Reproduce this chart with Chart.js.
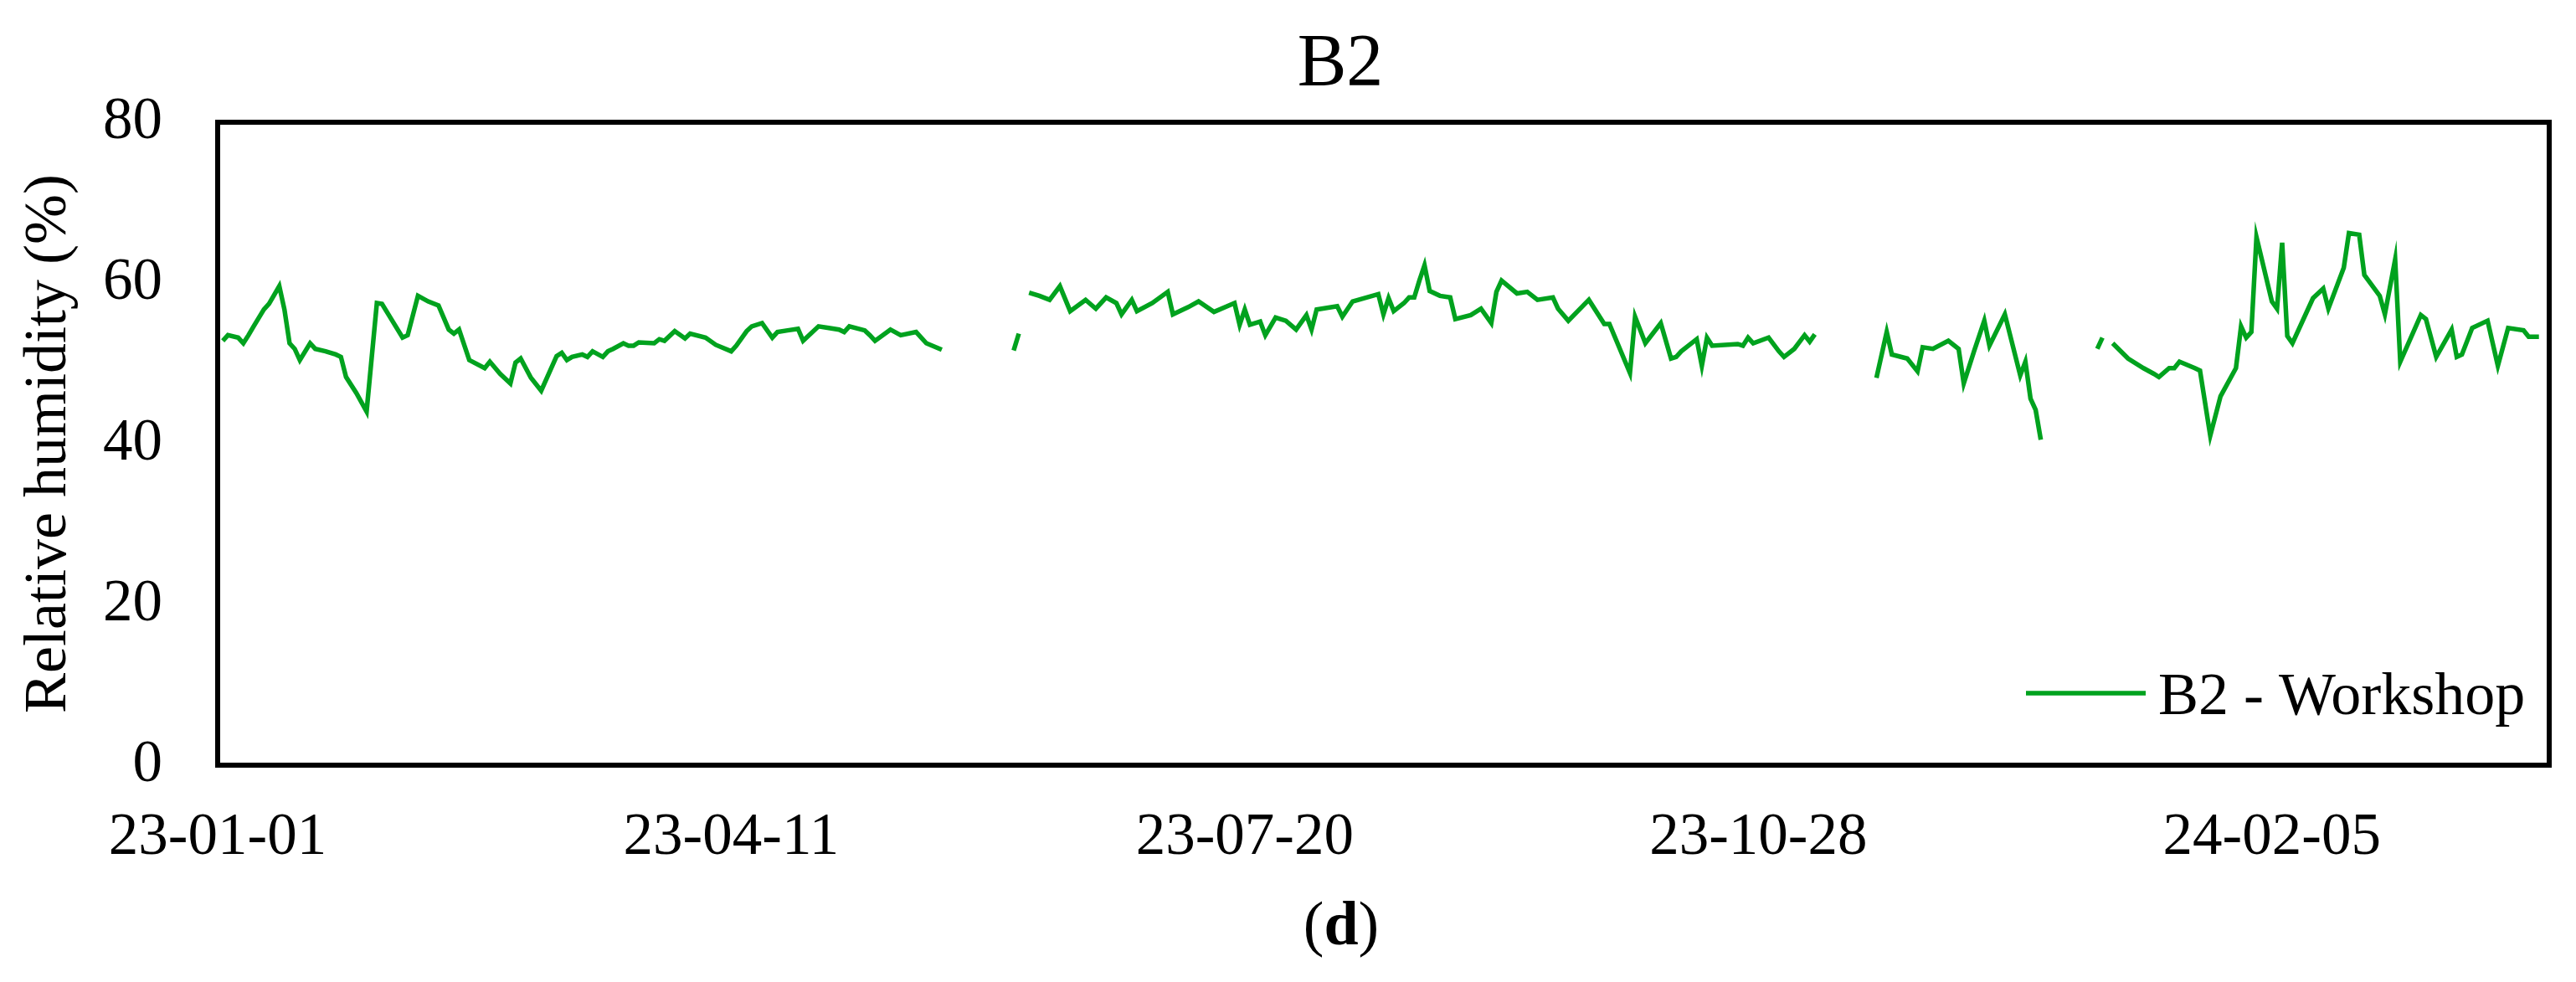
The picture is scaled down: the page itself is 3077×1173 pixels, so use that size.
<!DOCTYPE html>
<html>
<head>
<meta charset="utf-8">
<title>B2 - Relative humidity</title>
<script src="https://cdn.jsdelivr.net/npm/chart.js@4.4.1/dist/chart.umd.min.js"></script>
<style>
  html, body { margin: 0; padding: 0; background: #fff; }
  #chart { display: block; }
</style>
</head>
<body>
<canvas id="chart" width="3077" height="1173"></canvas>
<script>
'use strict';

// Days counted from 2023-01-01 (day 0). null = missing record (gap in the line)
var sampleDays = [
  1, 2, 4, 5, 6, 7, 9, 10, 12, 13, 14, 15, 16, 18, 19, 21, 23, 24, 25, 27,
  29, 31, 32, 34, 36, 37, 39, 41, 43, 45, 46, 47, 49, 52, 53, 55, 57, 58, 59, 61,
  63, 66, 67, 68, 69, 71, 72, 73, 75, 76, 77, 79, 80, 81, 82, 85, 86, 87, 89, 91,
  92, 95, 97, 100, 101, 103, 104, 106, 108, 109, 111, 113, 114, 117, 119, 121, 122, 123, 126, 127,
  128, 131, 133, 136, 138, 141,
  148,
  155, 156,
  157,
  158, 160, 162, 164, 166, 169, 171, 173, 175, 176, 178, 179, 182, 185, 186, 189, 191, 194, 198, 199,
  200, 201, 203, 204, 206, 208, 210, 212, 213, 214, 218, 219, 221, 226, 227, 228, 229, 231, 232, 233,
  234, 235, 236, 238, 240, 241, 244, 246, 248, 249, 250, 253, 255, 257, 260, 261, 263, 267, 270, 271,
  275, 276, 278, 281, 283, 284, 285, 288, 289, 290, 291, 296, 297, 298, 299, 302, 304, 305, 307, 309,
  310, 311,
  316,
  323, 325, 326, 329, 331, 332, 334, 337, 339, 340, 342, 344, 345, 348, 351, 352, 353, 354, 355,
  360,
  366, 367,
  368,
  369, 372, 375, 377, 378, 380, 381, 382, 385, 386, 388, 390, 393, 394, 395, 396, 397, 400, 401, 402,
  403, 404, 408, 410, 411, 414, 415, 417, 418, 421, 422, 424, 425, 429, 430, 432, 435, 436, 437, 439,
  442, 444, 446, 449, 450, 452
];

var humidity = [
  52.8, 53.5, 53.2, 52.5, 53.5, 54.6, 56.7, 57.4, 59.6, 56.7, 52.5, 51.8, 50.4, 52.5, 51.8, 51.5, 51.1, 50.8, 48.3, 46.3,
  44.0, 57.5, 57.4, 55.3, 53.2, 53.5, 58.4, 57.7, 57.2, 54.2, 53.7, 54.2, 50.4, 49.4, 50.2, 48.7, 47.5, 50.1, 50.6, 48.2,
  46.6, 50.9, 51.3, 50.4, 50.8, 51.1, 50.8, 51.5, 50.8, 51.5, 51.8, 52.5, 52.2, 52.2, 52.6, 52.5, 53.0, 52.8, 54.0, 53.1,
  53.7, 53.2, 52.3, 51.5, 52.2, 54.0, 54.6, 55.0, 53.2, 53.9, 54.1, 54.3, 52.8, 54.6, 54.4, 54.2, 53.9, 54.6, 54.1, 53.5,
  52.8, 54.2, 53.5, 53.9, 52.5, 51.7,
  null,
  51.6, 53.7,
  null,
  58.8, 58.4, 57.9, 59.6, 56.5, 57.9, 56.8, 58.2, 57.5, 56.1, 57.9, 56.5, 57.5, 58.9, 56.1, 57.0, 57.7, 56.4, 57.5, 54.8,
  56.7, 54.8, 55.2, 53.5, 55.7, 55.3, 54.2, 56.0, 54.2, 56.7, 57.1, 55.8, 57.7, 58.6, 56.1, 58.1, 56.5, 57.5, 58.2, 58.2,
  60.3, 62.2, 59.0, 58.4, 58.2, 55.5, 56.0, 56.8, 55.0, 58.9, 60.3, 58.7, 58.9, 57.9, 58.2, 56.8, 55.3, 57.9, 54.9, 54.9,
  48.8, 55.8, 52.5, 55.0, 50.6, 50.8, 51.5, 53.0, 49.7, 53.2, 52.2, 52.4, 52.2, 53.2, 52.5, 53.2, 51.5, 50.8, 51.8, 53.5,
  52.7, 53.6,
  null,
  48.2, 53.9, 51.1, 50.6, 49.0, 52.0, 51.8, 52.8, 51.8, 47.5, 51.5, 55.3, 52.2, 56.1, 48.5, 50.2, 45.6, 44.2, 40.5,
  null,
  51.8, 53.2,
  null,
  52.5, 50.6, 49.4, 48.7, 48.3, 49.4, 49.4, 50.2, 49.4, 49.1, 41.0, 45.9, 49.4, 54.6, 53.2, 53.9, 65.7, 57.7, 56.8, 65.0,
  53.4, 52.5, 58.1, 59.3, 56.8, 61.9, 66.2, 66.0, 61.0, 58.4, 56.1, 62.9, 50.2, 56.0, 55.5, 50.8, 54.2, 50.8, 51.1, 54.4,
  55.3, 49.7, 54.4, 54.1, 53.3, 53.3
];

var tickDays = [0, 100, 200, 300, 400];
var xTickLabels = ['23-01-01', '23-04-11', '23-07-20', '23-10-28', '24-02-05'];
var lastDay = 454;

var seriesLabel = 'B2 - Workshop';
var lineColor = '#00A21E';
var fontFamily = "'Liberation Serif', 'Times New Roman', serif";

if (sampleDays.length !== humidity.length) {
  console.error('B2: sampleDays e humidity têm tamanhos diferentes', sampleDays.length, humidity.length);
}

Chart.defaults.font.family = fontFamily;
Chart.defaults.color = '#000';

// caixa preta à volta da área do gráfico
var framePlugin = {
  id: 'frame',
  afterDatasetsDraw: function(chart) {
    var a = chart.chartArea;
    var ctx = chart.ctx;
    ctx.save();
    ctx.strokeStyle = '#000';
    ctx.lineWidth = 6;
    ctx.strokeRect(a.left, a.top, a.right - a.left, a.bottom - a.top);
    ctx.restore();
  }
};

// título, legenda dentro do gráfico e legenda "(d)" por baixo
var textPlugin = {
  id: 'texts',
  afterDraw: function(chart) {
    var ctx = chart.ctx;
    var a = chart.chartArea;
    ctx.save();
    ctx.fillStyle = '#000';

    // título
    ctx.font = '88px ' + fontFamily;
    ctx.textAlign = 'center';
    ctx.textBaseline = 'alphabetic';
    ctx.fillText('B2', 1601, 101);

    // legenda
    var ds = chart.data.datasets[0];
    var ly = a.bottom - 86;
    ctx.strokeStyle = ds.borderColor;
    ctx.lineWidth = 5.5;
    ctx.beginPath();
    ctx.moveTo(a.right - 625, ly);
    ctx.lineTo(a.right - 482, ly);
    ctx.stroke();
    ctx.font = '72px ' + fontFamily;
    ctx.textAlign = 'left';
    ctx.fillText(ds.label, a.right - 467, ly + 25);

    // (d)
    var regular = '74px ' + fontFamily;
    var bold = 'bold 74px ' + fontFamily;
    ctx.font = regular;
    var wOpen = ctx.measureText('(').width;
    var wClose = ctx.measureText(')').width;
    ctx.font = bold;
    var wD = ctx.measureText('d').width;
    var x0 = 1602 - (wOpen + wD + wClose) / 2;
    ctx.font = regular;
    ctx.fillText('(', x0, 1128);
    ctx.font = bold;
    ctx.fillText('d', x0 + wOpen, 1128);
    ctx.font = regular;
    ctx.fillText(')', x0 + wOpen + wD, 1128);

    ctx.restore();
  }
};

var points = sampleDays.map(function(d, i) {
  return { x: d, y: humidity[i] };
});

new Chart(document.getElementById('chart'), {
  type: 'line',
  data: {
    datasets: [{
      label: seriesLabel,
      data: points,
      borderColor: lineColor,
      backgroundColor: lineColor,
      borderWidth: 5.5,
      pointRadius: 0,
      tension: 0,
      spanGaps: false,
      fill: false
    }]
  },
  options: {
    responsive: false,
    animation: false,
    devicePixelRatio: 1,
    events: [],
    layout: { padding: { top: 146, right: 32, bottom: 109, left: 0 } },
    plugins: {
      legend: { display: false },
      title: { display: false },
      tooltip: { enabled: false }
    },
    scales: {
      x: {
        type: 'linear',
        min: 0,
        max: lastDay,
        grid: { display: false, drawTicks: false },
        border: { display: false },
        afterBuildTicks: function(scale) {
          scale.ticks = tickDays.map(function(d) { return { value: d }; });
        },
        afterFit: function(scale) { scale.height = 150; },
        ticks: {
          autoSkip: false,
          maxRotation: 0,
          padding: 45,
          font: { size: 71 },
          callback: function(value) {
            var i = tickDays.indexOf(value);
            return i >= 0 ? xTickLabels[i] : '';
          }
        }
      },
      y: {
        min: 0,
        max: 80,
        grid: { display: false, drawTicks: false },
        border: { display: false },
        afterFit: function(scale) { scale.width = 260; },
        ticks: {
          stepSize: 20,
          padding: 66,
          font: { size: 71 }
        },
        title: {
          display: true,
          text: 'Relative humidity (%)',
          font: { size: 72 },
          padding: { top: 16, bottom: 0 }
        }
      }
    }
  },
  plugins: [framePlugin, textPlugin]
});
</script>
</body>
</html>
